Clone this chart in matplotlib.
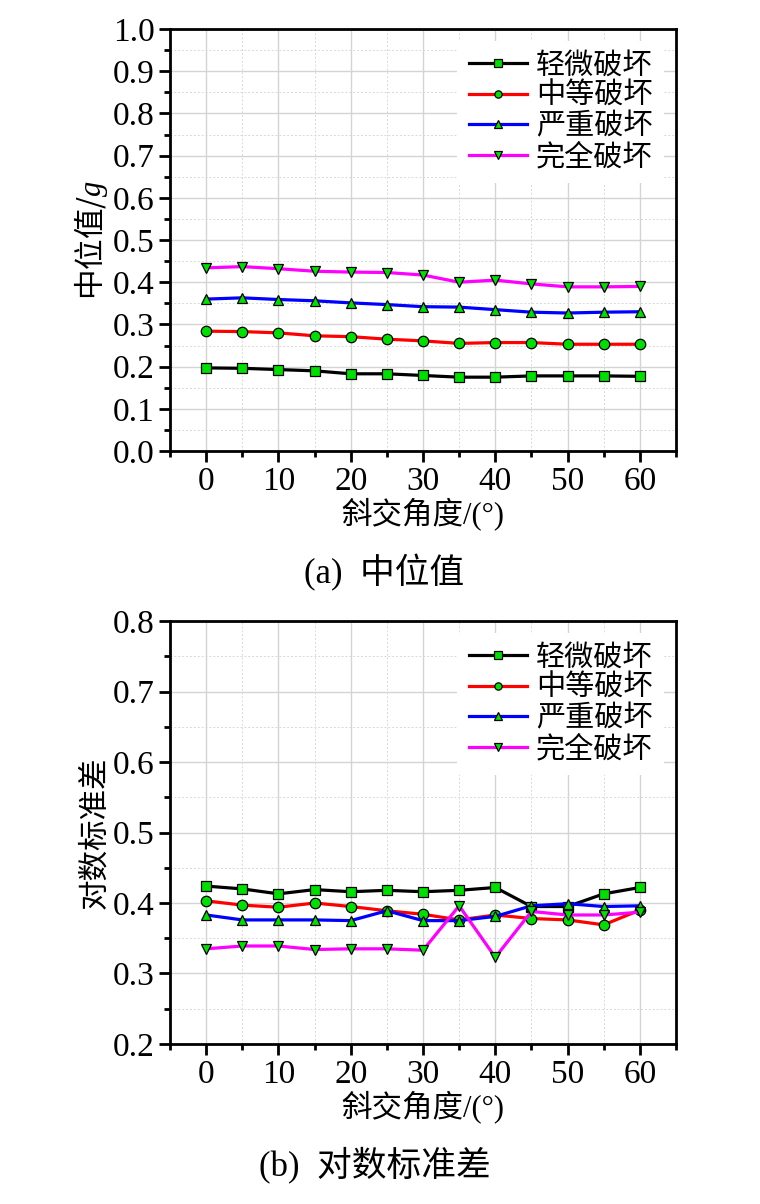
import numpy as np
import matplotlib
matplotlib.use("Agg")
from matplotlib import pyplot as plt
from matplotlib.ticker import MultipleLocator, FormatStrFormatter

plt.rcParams['font.family'] = ['Liberation Serif', 'Noto Sans CJK SC', 'DejaVu Sans']
plt.rcParams['mathtext.fontset'] = 'custom'
plt.rcParams['mathtext.rm'] = 'Noto Sans CJK SC'
plt.rcParams['mathtext.it'] = 'Liberation Serif:italic'

angles = [0, 5, 10, 15, 20, 25, 30, 35, 40, 45, 50, 55, 60]
labels = ["轻微破坏", "中等破坏", "严重破坏", "完全破坏"]

# (a) median, g
median_slight = [0.197, 0.196, 0.193, 0.190, 0.183, 0.183, 0.179, 0.175, 0.175, 0.178, 0.178, 0.178, 0.177]
median_moderate = [0.284, 0.283, 0.280, 0.273, 0.271, 0.265, 0.261, 0.255, 0.257, 0.257, 0.253, 0.253, 0.253]
median_extensive = [0.360, 0.363, 0.359, 0.356, 0.351, 0.347, 0.342, 0.341, 0.335, 0.329, 0.327, 0.329, 0.330]
median_complete = [0.434, 0.437, 0.432, 0.426, 0.424, 0.423, 0.417, 0.400, 0.405, 0.396, 0.389, 0.389, 0.390]

# (b) log standard deviation
beta_slight = [0.424, 0.420, 0.413, 0.419, 0.416, 0.418, 0.416, 0.418, 0.422, 0.395, 0.395, 0.413, 0.422]
beta_moderate = [0.403, 0.397, 0.394, 0.400, 0.395, 0.389, 0.384, 0.376, 0.383, 0.378, 0.376, 0.369, 0.390]
beta_extensive = [0.383, 0.376, 0.376, 0.376, 0.375, 0.389, 0.375, 0.375, 0.381, 0.396, 0.399, 0.395, 0.396]
beta_complete = [0.335, 0.339, 0.339, 0.334, 0.335, 0.335, 0.333, 0.396, 0.323, 0.388, 0.383, 0.383, 0.387]

colors = ['black', '#ff0000', '#0000ff', '#ff00ff']
markers = ['s', 'o', '^', 'v']


def draw(ax, series, ylim, ylabel):
    for vals, c, m, lab in zip(series, colors, markers, labels):
        ax.plot(angles, vals, color=c, lw=2.3, marker=m, markersize=7.5,
                markerfacecolor='#00e000', markeredgecolor='black',
                markeredgewidth=0.9, label=lab, zorder=3)
    ax.set_xlim(-5, 65)
    ax.set_ylim(*ylim)
    ax.xaxis.set_major_locator(MultipleLocator(10))
    ax.xaxis.set_minor_locator(MultipleLocator(5))
    ax.yaxis.set_major_locator(MultipleLocator(0.1))
    ax.yaxis.set_minor_locator(MultipleLocator(0.05))
    ax.yaxis.set_major_formatter(FormatStrFormatter('%.1f'))
    ax.grid(which='major', color='#d4d4d4', lw=1.0, ls='-', zorder=0)
    ax.grid(which='minor', color='#d8d8d8', lw=0.7, ls=(0, (2, 2)), zorder=0)
    ax.set_axisbelow(True)
    for s in ax.spines.values():
        s.set_linewidth(2.0)
    ax.tick_params(which='major', direction='out', length=8, width=2,
                   labelsize=24, top=False, right=False, pad=3)
    ax.tick_params(which='minor', direction='out', length=4, width=2,
                   top=False, right=False)
    ax.set_xlabel("斜交角度/(°)", fontsize=22, labelpad=0)
    ax.set_ylabel(ylabel, fontsize=22, labelpad=2)
    leg = ax.legend(loc='upper right', fontsize=21, frameon=True,
                    facecolor='white', edgecolor='none', framealpha=1,
                    handlelength=2.0, handletextpad=0.3, labelspacing=0.12,
                    borderaxespad=0.4, markerscale=0.7, fancybox=False)
    leg.set_zorder(5)


fig = plt.figure(figsize=(7.6, 12.04), dpi=100)
ax1 = fig.add_axes([0.2237, 0.6254, 0.6658, 0.3505])
ax2 = fig.add_axes([0.2237, 0.1329, 0.6658, 0.3513])

draw(ax1, [median_slight, median_moderate, median_extensive, median_complete],
     (0.0, 1.0), "$\\mathrm{中位值/}\\mathit{g}$")
draw(ax2, [beta_slight, beta_moderate, beta_extensive, beta_complete],
     (0.2, 0.8), "对数标准差")

fig.text(0.505, 1 - 573 / 1204, "(a)  中位值", ha='center', va='center', fontsize=25)
fig.text(0.493, 1 - 1165 / 1204, "(b)  对数标准差", ha='center', va='center', fontsize=25)

fig.savefig("out.png", dpi=100, facecolor='white')
